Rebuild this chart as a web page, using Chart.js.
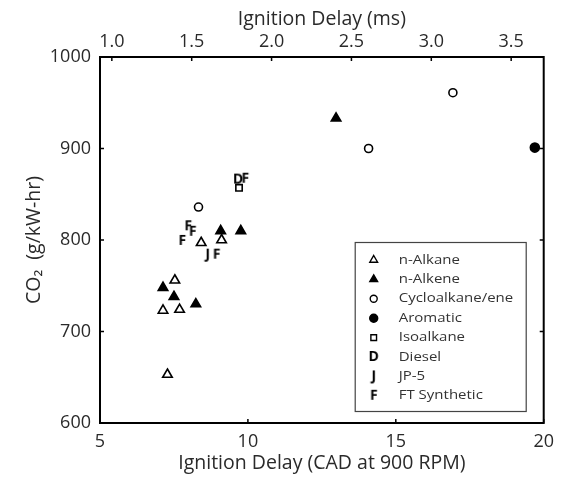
<!DOCTYPE html>
<html>
<head>
<meta charset="utf-8">
<script src="https://cdn.jsdelivr.net/npm/chart.js@4.4.1/dist/chart.umd.min.js"></script>
<style>
html, body { margin: 0; padding: 0; background: #fff; }
#wrap { width: 562px; height: 479px; }
</style>
</head>
<body>
<div id="wrap"><canvas id="chart"></canvas></div>
<script>
// ignition delay (CAD at 900 RPM) vs CO2 output, by fuel class
var nAlkaneX = [7.53, 7.13, 7.69, 7.28, 8.42, 9.11];
var nAlkaneY = [756, 723, 724, 653, 797, 800];
var nAlkeneX = [7.13, 7.50, 8.24, 9.08, 9.76, 12.98];
var nAlkeneY = [748, 738, 730, 810, 810, 933];
var cycloX = [8.33, 14.08, 16.93];
var cycloY = [836, 900, 961];
var aromaticX = [19.70];
var aromaticY = [901];
var isoX = [9.70];
var isoY = [857];
var dieselX = [9.67];
var dieselY = [866];
var jp5X = [8.64];
var jp5Y = [784];
var ftX = [7.98, 8.13, 7.78, 8.94, 9.91];
var ftY = [815, 809, 799, 784, 867];

var cadTicks = [5, 10, 15, 20];
var msTicks = [1.0, 1.5, 2.0, 2.5, 3.0, 3.5];
var co2Ticks = [600, 700, 800, 900, 1000];

// one crank angle degree at 900 RPM, in ms
var CAD_MS = 1000 / (900 * 6);

var FONT = '"Open Sans", Lato, sans-serif';
var TEXT = '#2a2a2a';

function letterMark(ch) {
    var c = document.createElement('canvas');
    c.width = 14;
    c.height = 16;
    var g = c.getContext('2d');
    g.fillStyle = '#000';
    g.font = 'bold 14px ' + FONT;
    g.textAlign = 'center';
    g.textBaseline = 'middle';
    g.fillText(ch, 7, 8.5);
    return c;
}

function pairs(xs, ys) {
    return xs.map(function (x, i) {
        return {x: x, y: ys[i]};
    });
}

var series = [
    {label: 'n-Alkane', xs: nAlkaneX, ys: nAlkaneY, style: 'triangle', fill: '#fff', r: 5.5, lr: 4.5},
    {label: 'n-Alkene', xs: nAlkeneX, ys: nAlkeneY, style: 'triangle', fill: '#000', r: 5.5, lr: 4.5},
    {label: 'Cycloalkane/ene', xs: cycloX, ys: cycloY, style: 'circle', fill: '#fff', r: 4, lr: 3.5},
    {label: 'Aromatic', xs: aromaticX, ys: aromaticY, style: 'circle', fill: '#000', r: 4.5, lr: 4},
    {label: 'Isoalkane', xs: isoX, ys: isoY, style: 'rect', fill: '#fff', r: 4.5, lr: 4},
    {label: 'Diesel', xs: dieselX, ys: dieselY, style: letterMark('D'), fill: '#000', r: 5, lr: 5},
    {label: 'JP-5', xs: jp5X, ys: jp5Y, style: letterMark('J'), fill: '#000', r: 5, lr: 5},
    {label: 'FT Synthetic', xs: ftX, ys: ftY, style: letterMark('F'), fill: '#000', r: 5, lr: 5}
];

var datasets = series.map(function (s) {
    return {
        label: s.label,
        data: pairs(s.xs, s.ys),
        pointStyle: s.style,
        pointRadius: s.r,
        pointHoverRadius: s.r,
        pointBackgroundColor: s.fill,
        pointBorderColor: '#000',
        pointBorderWidth: 1.6,
        showLine: false,
        clip: false
    };
});

function fixedTicks(values) {
    return function (scale) {
        scale.ticks = values.map(function (v) {
            return {value: v};
        });
    };
}

// box around the plot with MATLAB style inward ticks
var frame = {
    id: 'frame',
    afterDatasetsDraw: function (chart) {
        var ctx = chart.ctx, a = chart.chartArea, s = chart.scales;
        ctx.save();
        ctx.strokeStyle = '#000';
        ctx.lineWidth = 1.5;
        ctx.beginPath();
        s.x.ticks.forEach(function (t) {
            var px = s.x.getPixelForValue(t.value);
            ctx.moveTo(px, a.bottom);
            ctx.lineTo(px, a.bottom - 4);
        });
        s.x2.ticks.forEach(function (t) {
            var px = s.x2.getPixelForValue(t.value);
            ctx.moveTo(px, a.top);
            ctx.lineTo(px, a.top + 4);
        });
        s.y.ticks.forEach(function (t) {
            var py = s.y.getPixelForValue(t.value);
            ctx.moveTo(a.left, py);
            ctx.lineTo(a.left + 4, py);
            ctx.moveTo(a.right, py);
            ctx.lineTo(a.right - 4, py);
        });
        ctx.stroke();
        ctx.lineWidth = 2;
        ctx.strokeRect(a.left, a.top, a.right - a.left, a.bottom - a.top);
        ctx.restore();
    }
};

// legend box in the lower right corner of the plot
var boxLegend = {
    id: 'boxLegend',
    afterDraw: function (chart) {
        var ctx = chart.ctx, a = chart.chartArea;
        var w = 171, h = 169;
        var left = a.right - 18 - w, top = a.bottom - 12 - h;
        ctx.save();
        ctx.fillStyle = '#fff';
        ctx.fillRect(left, top, w, h);
        ctx.strokeStyle = '#444';
        ctx.lineWidth = 1.2;
        ctx.strokeRect(left + 0.5, top + 0.5, w, h);
        series.forEach(function (s, i) {
            var y = top + 18 + i * 19.4;
            ctx.fillStyle = s.fill;
            ctx.strokeStyle = '#000';
            ctx.lineWidth = 1.4;
            Chart.helpers.drawPoint(ctx, {pointStyle: s.style, radius: s.lr, rotation: 0, borderWidth: 1.4}, left + 19, y);
            // the label face runs wide, so stretch it a little
            ctx.save();
            ctx.translate(left + 44, y);
            ctx.scale(1.2, 1);
            ctx.fillStyle = '#333';
            ctx.font = '12.5px ' + FONT;
            ctx.textAlign = 'left';
            ctx.textBaseline = 'middle';
            ctx.fillText(s.label, 0, 0);
            ctx.restore();
        });
        ctx.restore();
    }
};

var tickFont = {family: FONT, size: 18};
var titleFont = {family: FONT, size: 19.5};

new Chart(document.getElementById('chart').getContext('2d'), {
    type: 'scatter',
    data: {datasets: datasets},
    options: {
        responsive: true,
        maintainAspectRatio: false,
        devicePixelRatio: 1,
        animation: false,
        layout: {padding: {top: 0, right: 12, bottom: 0, left: 0}},
        plugins: {
            legend: {display: false},
            tooltip: {enabled: false}
        },
        scales: {
            x: {
                type: 'linear',
                position: 'bottom',
                min: 5,
                max: 20,
                afterBuildTicks: fixedTicks(cadTicks),
                afterFit: function (scale) { scale.height = 56; },
                grid: {display: false, drawTicks: false},
                border: {display: false},
                ticks: {padding: 8, font: tickFont, color: TEXT, maxRotation: 0, autoSkip: false},
                title: {display: true, text: 'Ignition Delay (CAD at 900 RPM)', font: titleFont, color: TEXT, padding: {top: 0, bottom: 4}}
            },
            x2: {
                type: 'linear',
                axis: 'x',
                position: 'top',
                min: 5 * CAD_MS,
                max: 20 * CAD_MS,
                afterBuildTicks: fixedTicks(msTicks),
                afterFit: function (scale) { scale.height = 57; },
                grid: {display: false, drawTicks: false},
                border: {display: false},
                ticks: {
                    padding: 4, font: tickFont, color: TEXT, maxRotation: 0, autoSkip: false,
                    callback: function (v) { return v.toFixed(1); }
                },
                title: {display: true, text: 'Ignition Delay (ms)', font: titleFont, color: TEXT, padding: {top: 8, bottom: 0}}
            },
            y: {
                type: 'linear',
                position: 'left',
                min: 600,
                max: 1000,
                afterBuildTicks: fixedTicks(co2Ticks),
                afterFit: function (scale) { scale.width = 100; },
                grid: {display: false, drawTicks: false},
                border: {display: false},
                ticks: {
                    padding: 9, font: tickFont, color: TEXT, autoSkip: false,
                    callback: function (v) { return String(v); }
                },
                title: {display: true, text: 'CO\u2082  (g/kW-hr)', font: titleFont, color: TEXT, padding: {top: 23, bottom: 0}}
            }
        }
    },
    plugins: [frame, boxLegend]
});
</script>
</body>
</html>
